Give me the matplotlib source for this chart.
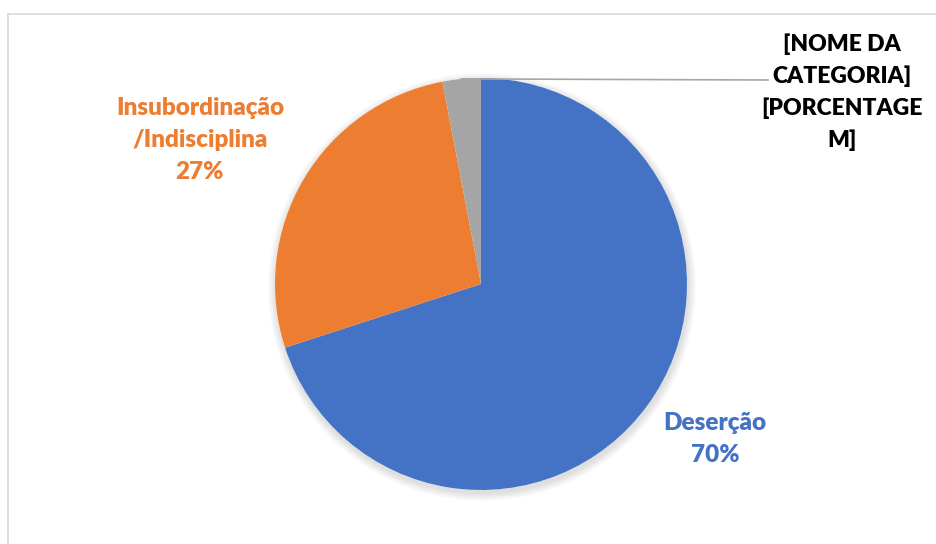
import numpy as np
import matplotlib.pyplot as plt
from matplotlib.lines import Line2D
from matplotlib.patches import Circle

# Motivos de exclusão
categorias = ["Deserção", "Insubordinação\n/Indisciplina", "[NOME DA\nCATEGORIA]"]
valores = [70, 27, 3]
cores = ["#4472C4", "#ED7D31", "#A5A5A5"]

W, H = 937, 544
fig = plt.figure(figsize=(W / 100, H / 100), dpi=100)
ax = fig.add_axes([0, 0, 1, 1])

cx, cy, r = 481, H - 284, 206

# soft shadow under the pie
for k in range(8):
    ax.add_patch(Circle((cx + 1, cy - 3), r + 1 + k, color="black",
                        alpha=0.015, lw=0, zorder=0))
ax.add_patch(Circle((cx, cy), r, color="white", lw=0, zorder=0.5))

wedges, _ = ax.pie(valores, colors=cores, startangle=90, counterclock=False,
                   center=(cx, cy), radius=r, frame=True,
                   wedgeprops=dict(linewidth=0))
ax.set_xlim(0, W)
ax.set_ylim(0, H)
ax.set_aspect("equal")
ax.axis("off")

fonte = dict(family="Lato", weight="heavy", fontsize=17.5, ha="center",
             va="center", linespacing=1.55)

ax.text(200, H - 140, f"{categorias[1]}\n{valores[1]}%", color=cores[1], **fonte)
ax.text(715, H - 439, f"{categorias[0]}\n{valores[0]}%", color=cores[0], **fonte)
fonte_cat = dict(fonte, fontsize=16.5, linespacing=1.6)
ax.text(842, H - 92, "[NOME DA\nCATEGORIA]\n[PORCENTAGE\nM]", color="black", **fonte_cat)

# leader line for the small slice
w = wedges[2]
ang = np.deg2rad((w.theta1 + w.theta2) / 2)
x0, y0 = cx + r * np.cos(ang), cy + r * np.sin(ang)
ax.plot([x0, 768], [y0, H - 80], color="#A6A6A6", lw=1.2)

# chart area border
fig.add_artist(Line2D([8 / W, 8 / W], [0, 1 - 14 / H], color="#D9D9D9", lw=1.2))
fig.add_artist(Line2D([8 / W, 1], [1 - 14 / H, 1 - 14 / H], color="#D9D9D9", lw=1.2))

fig.savefig("out.png", dpi=100, facecolor="white")
